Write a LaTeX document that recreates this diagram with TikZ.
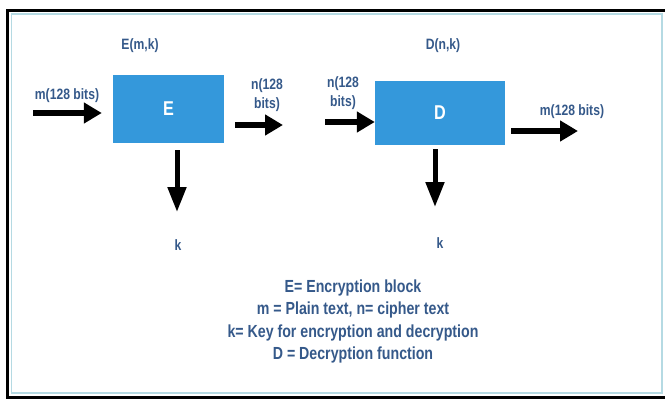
\documentclass[tikz,border=0pt]{standalone}
\usepackage{fontspec}
\setmainfont{Liberation Sans}[FakeStretch=0.81]
\usetikzlibrary{arrows.meta}
\definecolor{boxblue}{HTML}{3498DB}
\definecolor{labelblue}{HTML}{35598A}
\definecolor{framecyan}{HTML}{B5DAE3}

\begin{document}
\begin{tikzpicture}[x=1pt,y=-1pt,
  block/.style={fill=boxblue, draw=none, text=white,
    font=\fontsize{20}{20}\selectfont\bfseries, inner sep=0pt},
  lbl/.style={text=labelblue, font=\fontsize{15}{19}\selectfont\bfseries,
    inner sep=0pt, align=center},
  flow/.style={line width=6.5pt, -{Triangle[length=18pt,width=20pt]}},
  keyflow/.style={line width=5pt, -{Triangle[length=25pt,width=18pt]}},
]
\useasboundingbox (0,0) rectangle (665,400);
\fill[white] (0,0) rectangle (665,400);

% page frame: light inner rule and heavy outer rule
\draw[framecyan, line width=1.2pt] (662,14) -- (11.5,14) -- (11.5,393) -- (662,393) -- cycle;
\draw[black, line width=3pt] (665,10) -- (7.5,10) -- (7.5,397) -- (665,397);

% encryption and decryption blocks
\node[block, minimum width=111pt, minimum height=68pt] (E) at (168.5,109) {E};
\node[block, minimum width=130pt, minimum height=64pt] (D) at (440,113) {D};

% block titles
\node[lbl] (Et) at (140,46) {E(m,k)};
\node[lbl] (Dt) at (443,46) {D(n,k)};

% free ends of the data and key arrows
\coordinate (min)  at (33,113);
\coordinate (nout) at (283,125);
\coordinate (nin)  at (325,122);
\coordinate (mout) at (578,131);
\coordinate (kE)   at (177,212);
\coordinate (kD)   at (435,207);

% data flow
\draw[flow, shorten >=11pt] (min) -- (min -| E.west);
\draw[flow, shorten <=11pt] (E.east |- nout) -- (nout);
\draw[flow] (nin) -- (nin -| D.west);
\draw[flow, shorten <=6pt] (D.east |- mout) -- (mout);

% key arrows
\draw[keyflow, shorten <=7pt] (E.south -| kE) -- (kE);
\draw[keyflow, shorten <=4pt] (D.south -| kD) -- (kD);

% arrow labels
\node[lbl] (mL) at (67,96) {m(128 bits)};
\node[lbl] (n1) at (267,95) {n(128\\bits)};
\node[lbl] (n2) at (343,93) {n(128\\bits)};
\node[lbl] (mR) at (572,112) {m(128 bits)};
\node[lbl] (k1) at (178,245) {k};
\node[lbl] (k2) at (440,243) {k};

% legend
\node[text=labelblue, font=\fontsize{17.5}{22.3}\selectfont\bfseries, align=center,
  inner sep=0pt] (legend) at (353,321.5)
  {E= Encryption block\\
   m = Plain text, n= cipher text\\
   k= Key for encryption and decryption\\
   D = Decryption function};
\end{tikzpicture}
\end{document}
